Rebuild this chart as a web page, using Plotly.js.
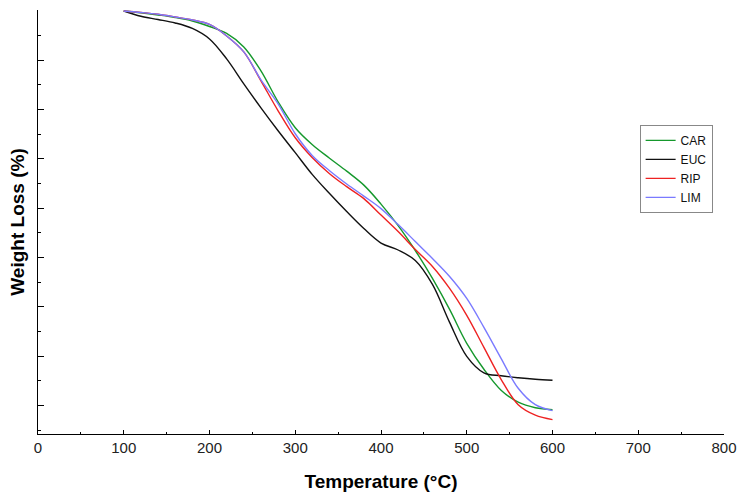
<!DOCTYPE html>
<html>
<head>
<meta charset="utf-8">
<script src="https://cdn.plot.ly/plotly-3.0.1.min.js"></script>
<style>html,body{margin:0;padding:0;background:#fff;}#chart{width:739px;height:501px;}</style>
</head>
<body>
<div id="chart"></div>
<script>
// Temperature grid (°C) and weight (%)
const temps = [100,120,140,160,180,200,220,240,260,280,300,320,340,360,380,400,420,440,460,480,500,520,540,560,580,600];
const carW = [100,99.64,99.19,98.68,97.98,96.86,95.45,92.71,87.85,81.58,76.32,72.87,70.14,67.51,64.68,60.83,56.48,51.42,45.75,39.47,32.59,27.33,23.08,20.65,19.53,19.13];
const eucW = [100,98.93,98.28,97.57,96.46,94.33,90.28,85.22,80.36,75.71,71.26,66.80,62.96,59.31,55.87,52.93,51.52,49.39,44.53,36.84,29.96,26.62,26.01,25.61,25.30,25.10];
const ripW = [100,99.70,99.33,98.79,98.18,97.27,94.94,91.70,85.83,79.76,74.29,70.24,67.00,64.37,61.94,58.60,55.26,51.62,48.18,43.72,38.26,31.78,25.30,20.14,18.02,17.11];
const limW = [100,99.70,99.33,98.79,98.18,97.27,94.94,91.70,86.03,81.17,75.10,70.65,67.61,64.92,62.45,59.92,56.68,53.24,49.80,46.15,41.70,35.83,29.55,23.48,20.14,18.93];

const seriesNames = ["CAR","EUC","RIP","LIM"];
const seriesColors = ["#15982c","#111111","#ee2222","#7a7aff"];
const xTickVals = [0,100,200,300,400,500,600,700,800];
const yTickVals = [20,30,40,50,60,70,80,90,100];
const yMinorVals = [15,25,35,45,55,65,75,85,95];

const ys = [carW, eucW, ripW, limW];

const traces = seriesNames.map((n,i)=>({
  x: temps, y: ys[i], name: n, type: 'scatter', mode: 'lines',
  line: {color: seriesColors[i], width: 1.4, shape: 'spline', smoothing: 1}
}));

const fontFam = '"Liberation Sans", Arial, sans-serif';
const layout = {
  width: 739, height: 501,
  margin: {l: 38, r: 15, t: 10, b: 67},
  paper_bgcolor: '#fff', plot_bgcolor: '#fff',
  font: {family: fontFam, color: '#222'},
  showlegend: true,
  legend: {
    x: 0.877, y: 0.729, xanchor: 'left', yanchor: 'top',
    bordercolor: '#888', borderwidth: 1, bgcolor: '#fff',
    font: {family: fontFam, size: 12, color: '#111'},
    tracegroupgap: 0
  },
  xaxis: {
    range: [0, 800], tickvals: xTickVals, ticktext: xTickVals.map(String),
    ticks: 'inside', ticklen: 4, tickcolor: '#000', tickwidth: 1,
    minor: {dtick: 50, ticks: 'inside', ticklen: 2, tickcolor: '#000'},
    showline: true, linecolor: '#000', linewidth: 1.2,
    showgrid: false, zeroline: false,
    tickfont: {family: fontFam, size: 15, color: '#222'},
    title: {text: '<b>Temperature (°C)</b>', font: {family: fontFam, size: 19, color: '#000'}, standoff: 19}
  },
  yaxis: {
    range: [14.2, 100.2], tickvals: yTickVals, showticklabels: false,
    ticks: 'inside', ticklen: 6, tickcolor: '#000', tickwidth: 1,
    minor: {tickvals: yMinorVals, ticks: 'inside', ticklen: 3, tickcolor: '#000'},
    showline: true, linecolor: '#000', linewidth: 1.2,
    showgrid: false, zeroline: false,
    title: {text: '<b>Weight Loss (%)</b>', font: {family: fontFam, size: 19, color: '#000'}, standoff: 7}
  }
};

Plotly.newPlot('chart', traces, layout, {displayModeBar: false, staticPlot: true});
</script>
</body>
</html>
